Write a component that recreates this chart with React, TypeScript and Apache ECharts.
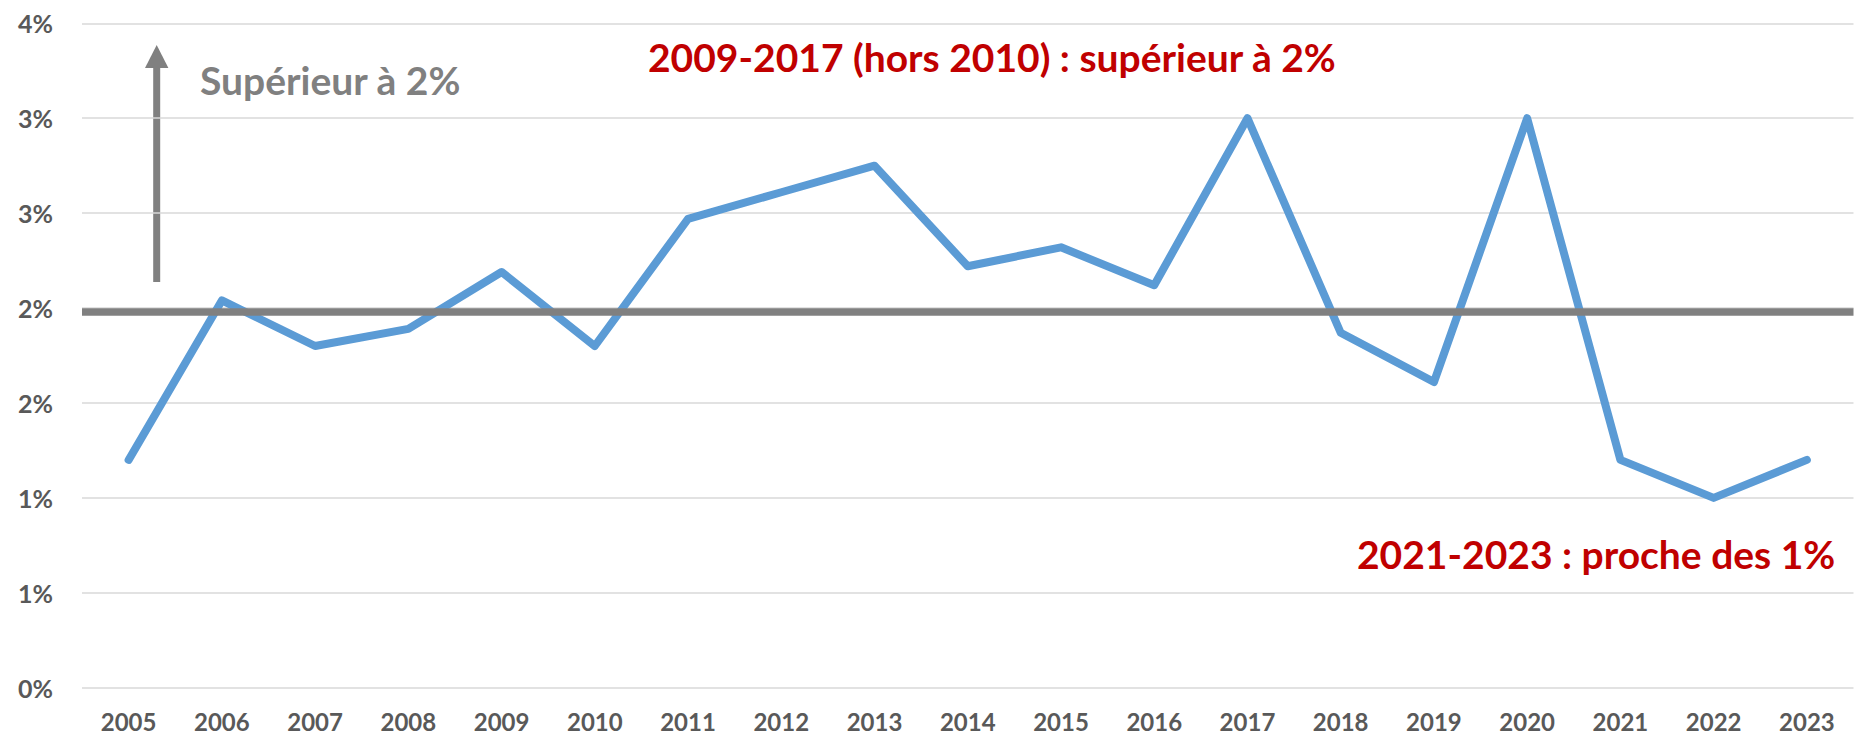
import React, { useEffect, useRef } from "react";
import * as echarts from "echarts";

const years = ["2005","2006","2007","2008","2009","2010","2011","2012","2013","2014","2015","2016","2017","2018","2019","2020","2021","2022","2023"];
const values = [1.2, 2.04, 1.8, 1.89, 2.19, 1.8, 2.47, 2.61, 2.75, 2.22, 2.32, 2.12, 3.0, 1.87, 1.61, 3.0, 1.2, 1.0, 1.2];
const yTickLabels = ["0%", "1%", "1%", "2%", "2%", "3%", "3%", "4%"];
const thresholdValue = 1.975;
const annotationArrow = "Supérieur à 2%";
const annotationTop = "2009-2017 (hors 2010) : supérieur à 2%";
const annotationBottom = "2021-2023 : proche des 1%";

const FONT = "Lato";

export default function App() {
  const ref = useRef<HTMLDivElement>(null);
  useEffect(() => {
    if (!ref.current) return;
    const chart = echarts.init(ref.current, null, { renderer: "svg" });
    chart.setOption({
      animation: false,
      backgroundColor: "#ffffff",
      grid: { left: 82, right: 3.5, top: 23.3, bottom: 47.3, containLabel: false },
      xAxis: {
        type: "category",
        data: years,
        boundaryGap: true,
        axisLine: { show: false },
        axisTick: { show: false },
        axisLabel: { color: "#595959", fontFamily: FONT, fontWeight: "bold", fontSize: 24, lineHeight: 24, margin: 22 },
      },
      yAxis: {
        type: "value",
        min: 0,
        max: 3.5,
        interval: 0.5,
        axisLine: { show: false },
        axisTick: { show: false },
        splitLine: { lineStyle: { color: "#D9D9D9", width: 1.5 } },
        axisLabel: {
          color: "#595959",
          fontFamily: FONT,
          fontWeight: "bold",
          fontSize: 25,
          margin: 29,
          formatter: (v: number) => yTickLabels[Math.round(v / 0.5)] ?? "",
        },
      },
      series: [
        {
          type: "line",
          data: values,
          symbol: "none",
          lineStyle: { color: "#5B9BD5", width: 8, cap: "round", join: "round" },
          z: 3,
          markLine: {
            silent: true,
            symbol: "none",
            label: { show: false },
            lineStyle: { color: "#808080", width: 7.5, type: "solid" },
            data: [{ yAxis: thresholdValue }],
            z: 4,
          },
        },
      ],
      graphic: [
        { type: "line", shape: { x1: 156.7, y1: 282, x2: 156.7, y2: 62 }, style: { stroke: "#808080", lineWidth: 7 } },
        { type: "polygon", shape: { points: [[156.7, 45], [145, 68], [168.4, 68]] }, style: { fill: "#808080" } },
        {
          type: "text",
          x: 200,
          y: 80,
          style: { text: annotationArrow, fill: "#808080", font: `bold 39px ${FONT}`, textVerticalAlign: "middle" },
        },
        {
          type: "text",
          x: 648,
          y: 57,
          style: { text: annotationTop, fill: "#C00000", font: `bold 39px ${FONT}`, textVerticalAlign: "middle" },
        },
        {
          type: "text",
          x: 1357,
          y: 554,
          style: { text: annotationBottom, fill: "#C00000", font: `bold 39px ${FONT}`, textVerticalAlign: "middle" },
        },
      ],
    });
    return () => chart.dispose();
  }, []);
  return <div ref={ref} style={{ position: "fixed", left: 0, top: 0, width: 1857, height: 735 }} />;
}
